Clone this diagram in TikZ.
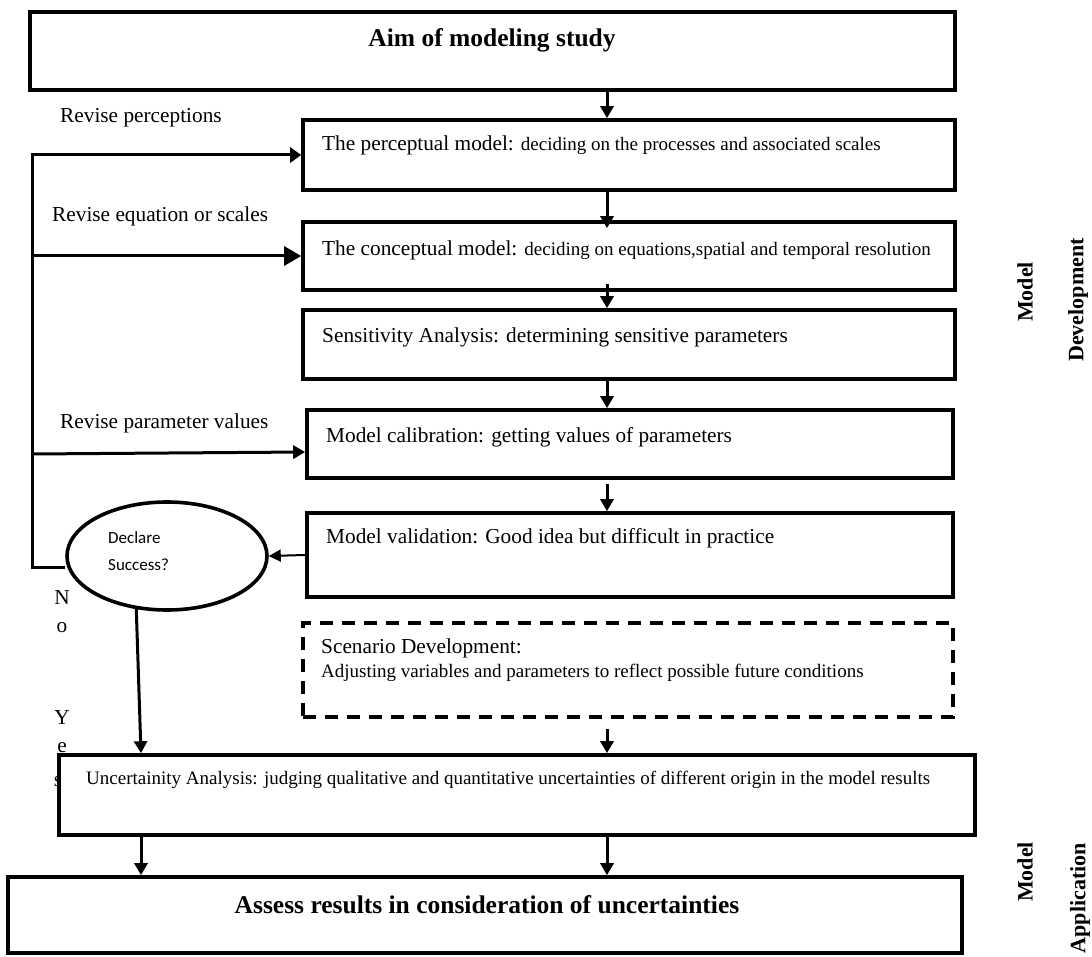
\documentclass[tikz,border=0pt]{standalone}
\usepackage{fontspec}
\setmainfont{Liberation Serif}
\newfontfamily\calibrifont{Carlito}
\usetikzlibrary{arrows.meta,shapes.geometric}
\begin{document}
\begin{tikzpicture}[x=1pt, y=-1pt, line join=miter,
	box/.style={draw, line width=3.6pt, fill=white, inner sep=0pt},
	dashbox/.style={box, dash pattern=on 13pt off 9pt},
	txt/.style={anchor=west, inner sep=0pt, font=\fontsize{21.3}{24}\selectfont},
	small/.style={font=\fontsize{19}{22}\selectfont},
	head/.style={inner sep=0pt, font=\bfseries\fontsize{25.5}{28}\selectfont},
	side/.style={inner sep=0pt, rotate=90, font=\bfseries\fontsize{22}{24}\selectfont},
	yesno/.style={inner sep=0pt, font=\fontsize{21.3}{24}\selectfont},
	arr/.style={line width=3pt, -{Triangle[length=12pt,width=13pt]}}]
\useasboundingbox (0,0) rectangle (1092,957);
\coordinate (col) at (607,0);
\coordinate (leftcol) at (141,0);
\coordinate (loop) at (32,567);

% No / Yes, partly under the uncertainty box
\foreach \ch/\xx/\yy [count=\i] in {N/62/598, o/62/628, Y/62/718, e/62/748, s/58/782}
	\node[yesno] (yn\i) at (\xx,\yy) {\ch};

% boxes
\node[box, minimum width=925pt, minimum height=78pt] (aim) at (492.5,51) {};
\node[box, minimum width=652pt, minimum height=70pt] (perc) at (629,155) {};
\node[box, minimum width=652pt, minimum height=68pt] (conc) at (629,256) {};
\node[box, minimum width=652pt, minimum height=69pt] (sens) at (629,344.5) {};
\node[box, minimum width=646pt, minimum height=68pt] (calib) at (630,444) {};
\node[box, minimum width=646pt, minimum height=84pt] (valid) at (630,555) {};
\node[dashbox, minimum width=650pt, minimum height=94pt] (scen) at (628,670) {};
\node[box, minimum width=916pt, minimum height=80pt] (unc) at (517,795) {};
\node[box, minimum width=954pt, minimum height=76pt] (assess) at (485,915) {};
\node[draw, ellipse, line width=3.6pt, fill=white, minimum width=200pt, minimum height=108pt, inner sep=0pt] (success) at (167,556) {};

% texts
\node[head] (aimtxt) at (492,40) {Aim of modeling study};
\node[txt] (perctxt) at (322,145) {The perceptual model: {\fontsize{19}{22}\selectfont deciding on the processes and associated scales}};
\node[txt] (conctxt) at (322,250) {The conceptual model: {\fontsize{19}{22}\selectfont deciding on equations,spatial and temporal resolution}};
\node[txt] (senstxt) at (322,337) {Sensitivity Analysis: determining sensitive parameters};
\node[txt] (calibtxt) at (326,437) {Model calibration: getting values of parameters};
\node[txt] (validtxt) at (326,538) {Model validation: Good idea but difficult in practice};
\node[txt] (scentxt) at (321,648) {Scenario Development:};
\node[txt, small] (scentxtb) at (321,673) {Adjusting variables and parameters to reflect possible future conditions};
\node[txt, small] (unctxt) at (86,780) {Uncertainity Analysis: judging qualitative and quantitative uncertainties of different origin in the model results};
\node[head] (assesstxt) at (487,905) {Assess results in consideration of uncertainties};
\node[anchor=west, inner sep=0pt, align=left, font=\calibrifont\fontsize{17}{27}\selectfont] (successtxt) at (108,551) {Declare\\Success?};

\node[txt] (revA) at (60,118) {Revise perceptions};
\node[txt] (revB) at (52,216) {Revise equation or scales};
\node[txt] (revC) at (60,423) {Revise parameter values};

\node[side] (devA) at (1025,292) {Model};
\node[side] (devB) at (1078,300) {Development};
\node[side] (appA) at (1025,872) {Model};
\node[side, anchor=east] (appB) at (1080,843) {Application};

% main flow
\draw[arr] (aim.south -| col) -- (perc.north -| col);
\draw[arr] (perc.south -| col) -- ([yshift=-8pt]conc.north -| col);
\draw[arr] ([yshift=8pt]conc.south -| col) -- (sens.north -| col);
\draw[arr] (sens.south -| col) -- (calib.north -| col);
\draw[arr] ([yshift=-4pt]calib.south -| col) -- (valid.north -| col);
\draw[arr] ([yshift=-10pt]scen.south -| col) -- (unc.north -| col);
\draw[arr] (unc.south -| col) -- (assess.north -| col);
\draw[arr] (unc.south -| leftcol) -- (assess.north -| leftcol);

% decision
\draw[line width=2pt, -{Triangle[length=12pt,width=12pt]}] (valid.west) -- (success.east);
\draw[arr] (success.-120) -- (unc.north -| leftcol);

% revise loops
\draw[arr, -{Triangle[length=11pt,width=15pt]}] (success.west |- loop) -- (loop) -- (loop |- perc.west) -- (perc.west);
\draw[arr, -{Triangle[length=17pt,width=19pt]}] (loop |- conc.west) -- (conc.west);
\draw[arr] ([yshift=-10pt]loop |- calib.west) -- ([yshift=-8pt]calib.west);
\end{tikzpicture}
\end{document}
